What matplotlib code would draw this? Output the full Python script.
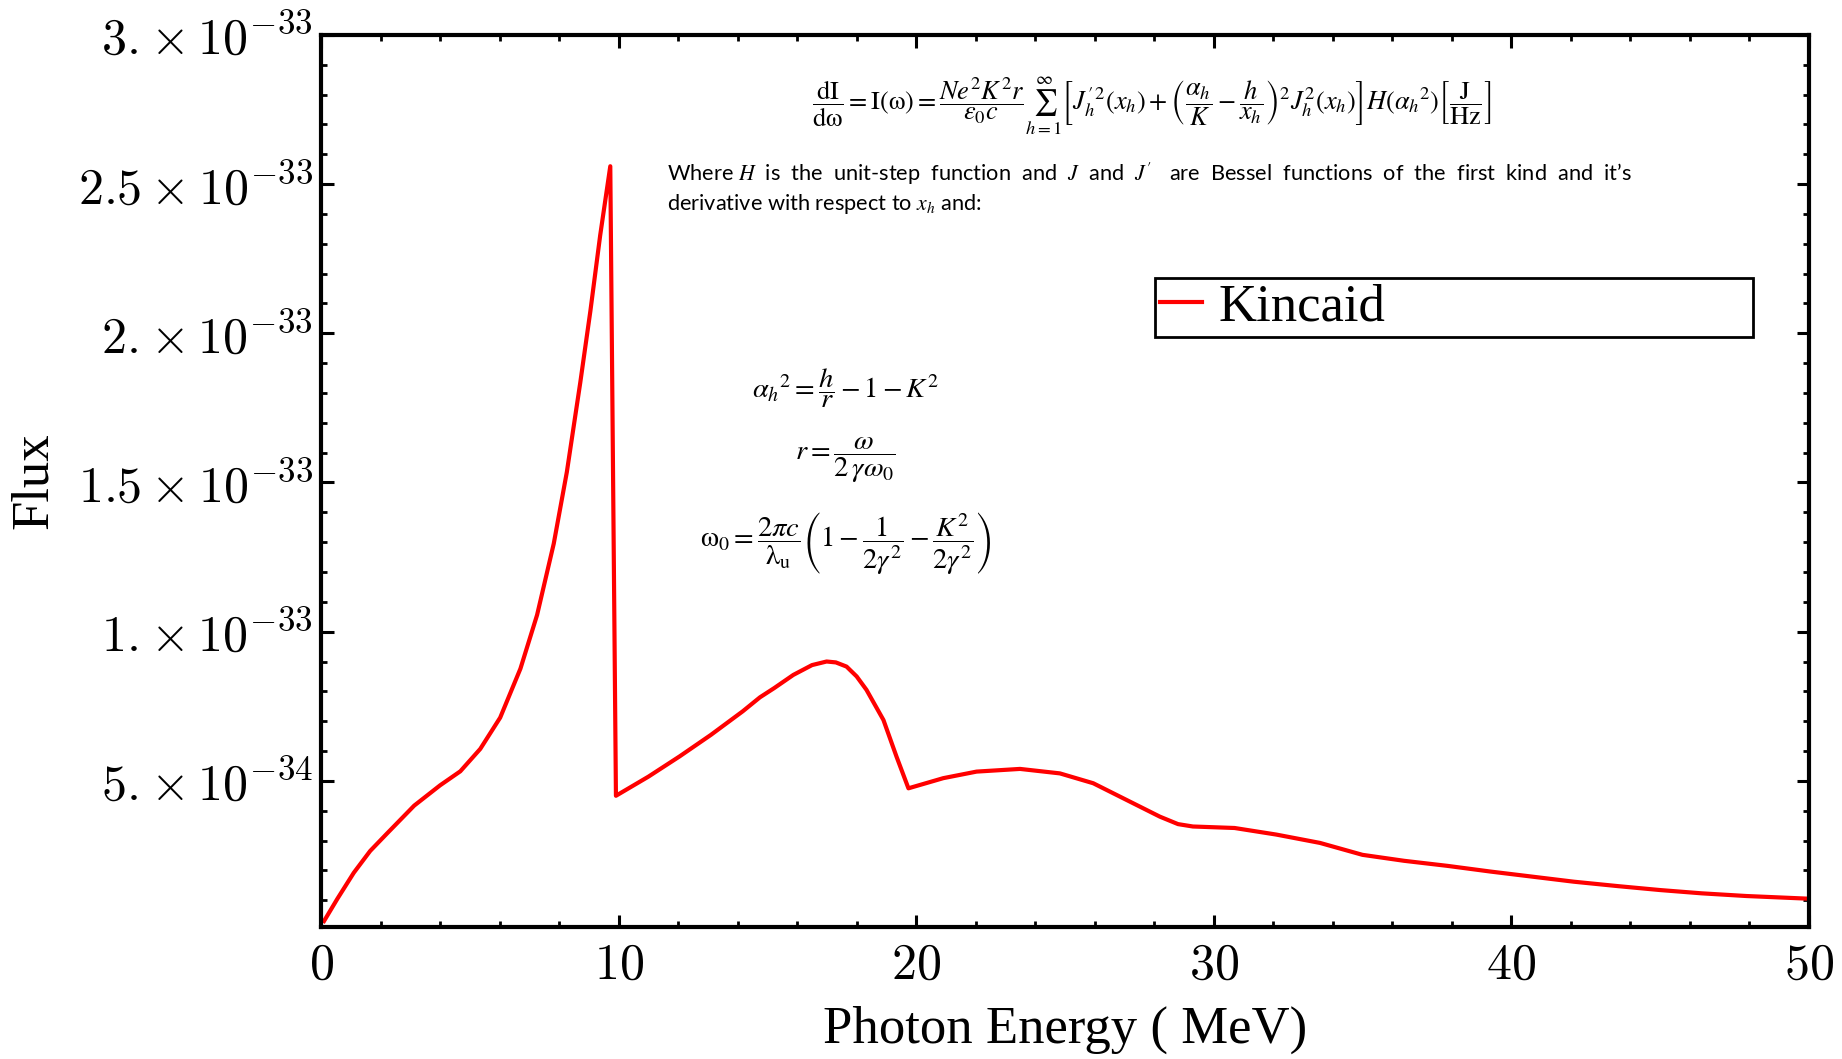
import numpy as np
import matplotlib
matplotlib.use("Agg")
import matplotlib.pyplot as plt
from matplotlib.ticker import MultipleLocator

# photon energy (MeV) and flux (units of 1e-34)
energy = [0.1, 0.55, 1.1, 1.65, 2.23, 3.13, 4.0, 4.68, 5.35, 6.02, 6.7, 7.26,
          7.82, 8.26, 8.71, 9.05, 9.38, 9.72, 9.91, 11.0, 12.05, 13.1, 14.17,
          14.75, 15.23, 15.87, 16.5, 16.99, 17.3, 17.66, 18.0, 18.33, 18.9,
          19.34, 19.74, 20.91, 22.03, 23.49, 24.83, 25.95, 27.07, 28.19, 28.8,
          29.3, 30.7, 32.1, 33.57, 35.0, 36.4, 37.86, 39.3, 40.7, 42.1, 43.6,
          45.0, 46.4, 47.9, 50.0]
flux = [0.3, 1.05, 1.92, 2.65, 3.25, 4.17, 4.85, 5.32, 6.07, 7.12, 8.76, 10.56,
        12.95, 15.35, 18.34, 20.74, 23.28, 25.6, 4.5, 5.14, 5.82, 6.54, 7.33,
        7.8, 8.11, 8.55, 8.88, 9.0, 8.97, 8.83, 8.5, 8.05, 7.04,
        5.81, 4.75, 5.09, 5.31, 5.40, 5.25, 4.92, 4.36, 3.80, 3.55,
        3.47, 3.42, 3.2, 2.92, 2.52, 2.32, 2.15, 1.96, 1.79, 1.62, 1.47,
        1.34, 1.23, 1.14, 1.05]

y_ticks = [5e-34, 1e-33, 1.5e-33, 2e-33, 2.5e-33, 3e-33]
y_labels = [r"$5.\!\times10^{-34}$", r"$1.\!\times10^{-33}$", r"$1.5\times10^{-33}$",
            r"$2.\!\times10^{-33}$", r"$2.5\times10^{-33}$", r"$3.\!\times10^{-33}$"]
x_ticks = [0, 10, 20, 30, 40, 50]

serif = "Liberation Serif"

fig = plt.figure(figsize=(18.42, 10.59), dpi=100)
ax = fig.add_axes([0.1743, 0.1246, 0.8077, 0.8424])

ax.plot(energy, np.array(flux) * 1e-34, color="red", linewidth=3,
        solid_joinstyle="round", label="Kincaid")

ax.set_xlim(0, 50)
ax.set_ylim(1e-35, 3e-33)
ax.set_xticks(x_ticks)
ax.set_xticklabels([rf"${t}$" for t in x_ticks])
ax.set_yticks(y_ticks)
ax.set_yticklabels(y_labels)
ax.xaxis.set_minor_locator(MultipleLocator(2))
ax.yaxis.set_minor_locator(MultipleLocator(1e-34))
for lab in ax.get_xticklabels() + ax.get_yticklabels():
    lab.set_math_fontfamily("cm")
    lab.set_fontsize(36)

ax.tick_params(which="both", direction="in", top=True, right=True, colors="black")
ax.tick_params(which="major", length=9, width=2.2)
ax.tick_params(which="minor", length=4.5, width=2)
ax.tick_params(axis="y", which="major", pad=6)
ax.tick_params(axis="x", which="major", pad=10)
for s in ax.spines.values():
    s.set_linewidth(3)

ax.set_xlabel("Photon Energy ( MeV)", fontsize=38, family=serif, labelpad=12)
ax.set_ylabel("Flux", fontsize=38, family=serif, labelpad=14)

leg = ax.legend(loc="upper left", bbox_to_anchor=(0.5605, 0.659, 0.402, 0.0686),
                mode="expand", borderaxespad=0, fancybox=False, framealpha=1,
                edgecolor="black", handlelength=0.8, handletextpad=0.3,
                borderpad=0.1, prop={"family": serif, "size": 38})
leg.get_frame().set_linewidth(2)

# formulas
eq_main = (r"$\dfrac{\mathrm{dI}}{\mathrm{d\omega}} = \mathrm{I(\omega)} = "
           r"\dfrac{Ne^2K^2r}{\epsilon_0 c}\sum_{h=1}^{\infty}"
           r"\left[J_h^{\prime\,2}(x_h) + \left(\dfrac{\alpha_h}{K} - \dfrac{h}{x_h}\right)^2"
           r" J_h^2(x_h)\right] H({\alpha_h}^2)\left[\dfrac{\mathrm{J}}{\mathrm{Hz}}\right]$")
fig.text(0.625, 0.900, eq_main, ha="center", va="center", fontsize=19,
         math_fontfamily="stix")

fig.text(0.362, 0.8357,
         r"Where $H$  is  the  unit-step  function  and  $J$  and  $J'$   are  Bessel  functions  of  the  first  kind  and  it’s",
         ha="left", va="center", fontsize=15.7, family="Lato", math_fontfamily="stix")
fig.text(0.362, 0.807, r"derivative with respect to $x_h$ and:",
         ha="left", va="center", fontsize=15.7, family="Lato", math_fontfamily="stix")

fig.text(0.459, 0.6336, r"${\alpha_h}^2 = \dfrac{h}{r} - 1 - K^2$",
         ha="center", va="center", fontsize=20.5, math_fontfamily="stix")
fig.text(0.459, 0.5656, r"$r = \dfrac{\omega}{2\,\gamma\omega_0}$",
         ha="center", va="center", fontsize=20.5, math_fontfamily="stix")
fig.text(0.459, 0.4873,
         r"$\mathrm{\omega_0} = \dfrac{2\pi c}{\mathrm{\lambda_u}}\left(1 - \dfrac{1}{2\gamma^2} - \dfrac{K^2}{2\gamma^2}\right)$",
         ha="center", va="center", fontsize=20.5, math_fontfamily="stix")

fig.savefig("out.png", dpi=100)
